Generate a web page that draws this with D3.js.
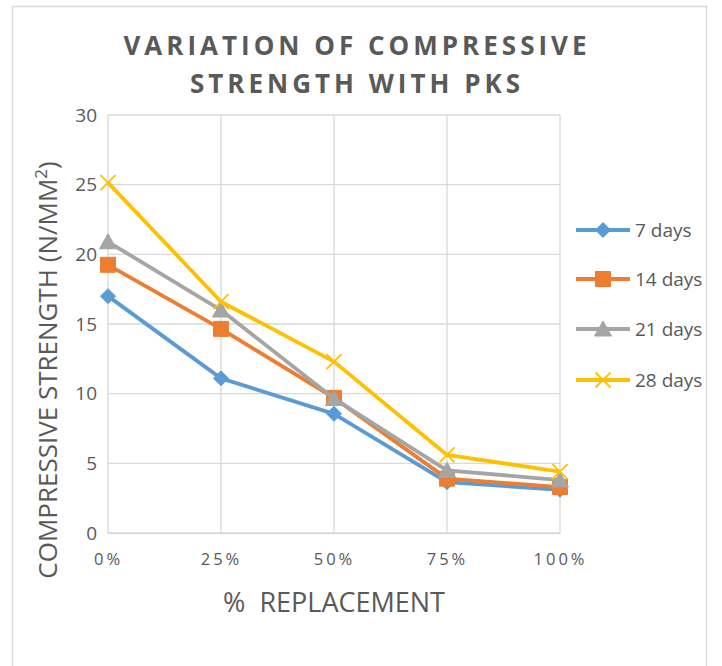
<!DOCTYPE html>
<html><head><meta charset="utf-8">
<script src="https://cdn.jsdelivr.net/npm/d3@7"></script>
<style>body{margin:0;background:#fff}svg{display:block}</style>
</head><body>
<svg id="c" width="722" height="666"></svg>
<script>
const categories = ["0%","25%","50%","75%","100%"];
const seriesNames = ["7 days","14 days","21 days","28 days"];
const days7  = [17.0, 11.1, 8.55, 3.65, 3.1];
const days14 = [19.25, 14.65, 9.7, 3.9, 3.3];
const days21 = [20.9, 16.0, 9.65, 4.5, 3.8];
const days28 = [25.15, 16.6, 12.3, 5.6, 4.4];
const yTicks = [0,5,10,15,20,25,30];
const colors = ["#5B9BD5","#ED7D31","#A5A5A5","#FFC000"];
const markers = ["diamond","square","triangle","x"];
const seriesData = [days7, days14, days21, days28];

const svg = d3.select("#c");
const font = "'Open Sans', sans-serif";
// frame
svg.append("rect").attr("x",12.5).attr("y",6.5).attr("width",694).attr("height",680)
  .attr("fill","#fff").attr("stroke","#d9d9d9").attr("stroke-width",1.5);

const x = d3.scalePoint().domain(categories).range([108,560]);
const y = d3.scaleLinear().domain([0,30]).range([533,115]);

// grid
svg.append("g").selectAll("line").data(yTicks).join("line")
  .attr("x1",108).attr("x2",560).attr("y1",d=>y(d)).attr("y2",d=>y(d))
  .attr("stroke","#d9d9d9").attr("stroke-width",1.3);
svg.append("g").selectAll("line").data(categories).join("line")
  .attr("x1",d=>x(d)).attr("x2",d=>x(d)).attr("y1",115).attr("y2",533)
  .attr("stroke","#d9d9d9").attr("stroke-width",1.3);

// y axis labels
const ya = svg.append("g").attr("transform","translate(108,0)")
  .call(d3.axisLeft(y).tickValues(yTicks).tickSize(0).tickPadding(11));
ya.select(".domain").remove();
ya.selectAll("text").attr("font-family",font).attr("font-size",19).attr("fill","#595959");
// x axis labels
const xa = svg.append("g").attr("transform","translate(0,533)")
  .call(d3.axisBottom(x).tickSize(0).tickPadding(20));
xa.select(".domain").attr("stroke","#d9d9d9").attr("stroke-width",1.3);
xa.selectAll("text").attr("font-family",font).attr("font-size",16.5).attr("fill","#595959")
  .attr("letter-spacing","3px");

function markerPath(type){
  if(type==="diamond") return "M0,-7.5L7.5,0L0,7.5L-7.5,0Z";
  if(type==="square") return "M-7.5,-7.5H7.5V7.5H-7.5Z";
  if(type==="triangle") return "M0,-8L8.5,7L-8.5,7Z";
  return "M-7.5,-7.5L7.5,7.5M-7.5,7.5L7.5,-7.5";
}
const line = d3.line().x((d,i)=>x(categories[i])).y(d=>y(d));
seriesData.forEach((vals,si)=>{
  const g = svg.append("g");
  g.append("path").datum(vals).attr("d",line).attr("fill","none")
    .attr("stroke",colors[si]).attr("stroke-width",3.8).attr("stroke-linejoin","round");
  g.selectAll("path.m").data(vals).join("path").attr("class","m")
    .attr("transform",(d,i)=>`translate(${x(categories[i])},${y(d)})`)
    .attr("d",markerPath(markers[si]))
    .attr("fill",markers[si]==="x"?"none":colors[si])
    .attr("stroke",colors[si]).attr("stroke-width",markers[si]==="x"?1.8:1);
});

// legend
const legY = [230,279,329,380];
seriesNames.forEach((n,i)=>{
  const g = svg.append("g").attr("transform",`translate(0,${legY[i]})`);
  g.append("line").attr("x1",576).attr("x2",630).attr("y1",0).attr("y2",0)
    .attr("stroke",colors[i]).attr("stroke-width",3.8);
  g.append("path").attr("transform","translate(603,0)").attr("d",markerPath(markers[i]))
    .attr("fill",markers[i]==="x"?"none":colors[i]).attr("stroke",colors[i])
    .attr("stroke-width",markers[i]==="x"?1.8:1);
  g.append("text").attr("x",635).attr("y",0).attr("dy","0.35em").text(n)
    .attr("font-family",font).attr("font-size",19).attr("fill","#595959");
});

// title
const t = svg.append("text").attr("text-anchor","middle").attr("font-family",font)
  .attr("font-weight","bold").attr("font-size",26).attr("fill","#595959").attr("letter-spacing","4px");
t.append("tspan").attr("x",357).attr("y",55).text("VARIATION OF COMPRESSIVE");
t.append("tspan").attr("x",357).attr("y",93).text("STRENGTH WITH PKS");

// axis titles
svg.append("text").attr("x",334).attr("y",612).attr("text-anchor","middle")
  .attr("font-family",font).attr("font-size",27).attr("fill","#595959").attr("xml:space","preserve")
  .text("%  REPLACEMENT");
const yt = svg.append("text").attr("transform","translate(57,370) rotate(-90)").attr("text-anchor","middle")
  .attr("font-family",font).attr("font-size",26).attr("fill","#595959");
yt.append("tspan").text("COMPRESSIVE STRENGTH (N/MM");
yt.append("tspan").attr("font-size",17).attr("dy",-10).text("2");
yt.append("tspan").attr("dy",10).text(")");
</script>
</body></html>
